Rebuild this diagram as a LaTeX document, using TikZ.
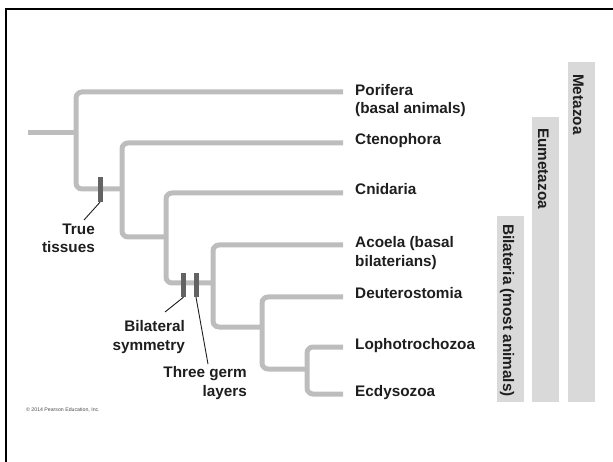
\documentclass[tikz,border=0pt]{standalone}
\usepackage{fontspec}
\setmainfont{Liberation Sans}
\definecolor{branchgray}{HTML}{BDBDBD}
\definecolor{markgray}{HTML}{636363}
\definecolor{bargray}{HTML}{D9D9D9}
\definecolor{inkblack}{HTML}{1E1E1E}
\begin{document}
\begin{tikzpicture}[x=1pt,y=-1pt,
  branch/.style={draw=branchgray, line width=5pt, rounded corners=6pt},
  lab/.style={font=\fontsize{15.3}{18.5}\selectfont\bfseries, text=inkblack,
    inner sep=0pt, anchor=base west, align=left},
  sidelab/.style={lab, anchor=base east, align=right},
  barlab/.style={lab, rotate=-90},
  marker/.style={fill=markgray, draw=none, inner sep=0pt,
    minimum width=5pt, minimum height=24pt},
  leader/.style={draw=inkblack, line width=0.9pt},
  cladebar/.style={fill=bargray}]
\useasboundingbox (0,0) rectangle (613,462);
% page frame
\draw[line width=2pt] (6,462) -- (6,9) -- (613,9);

% branch tips and internal nodes
\coordinate (root) at (28,133);
\coordinate (n1) at (76,133);
\coordinate (n2) at (122,189);
\coordinate (n3) at (166,237);
\coordinate (n4) at (213,283);
\coordinate (n5) at (262,327);
\coordinate (n6) at (307,369);
\coordinate (tPor) at (343,92);
\coordinate (tCte) at (343,143);
\coordinate (tCni) at (343,193);
\coordinate (tAco) at (343,245);
\coordinate (tDeu) at (343,297);
\coordinate (tLop) at (343,347);
\coordinate (tEcd) at (343,394);

% tree
\draw[branch] (root) -- (n1);
\draw[branch] (tPor) -| (n1) |- (n2);
\draw[branch] (tCte) -| (n2) |- (n3);
\draw[branch] (tCni) -| (n3) |- (n4);
\draw[branch] (tAco) -| (n4) |- (n5);
\draw[branch] (tDeu) -| (n5) |- (n6);
\draw[branch] (tLop) -| (n6) |- (tEcd);

% taxon labels (two-line labels are placed by their last baseline)
\node[lab] (por) at (355,114) {Porifera\\(basal animals)};
\node[lab] (cte) at (355,145) {Ctenophora};
\node[lab] (cni) at (355,195) {Cnidaria};
\node[lab] (aco) at (355,266.5) {Acoela (basal\\bilaterians)};
\node[lab] (deu) at (355,299) {Deuterostomia};
\node[lab] (lop) at (355,349) {Lophotrochozoa};
\node[lab] (ecd) at (355,396.5) {Ecdysozoa};

% character markers and their labels
\node[marker, minimum height=25pt] (mTissue) at (100,189.5) {};
\node[marker] (mSym) at (183.5,285) {};
\node[marker] (mGerm) at (196,285) {};
\node[sidelab] (lTissue) at (95,253) {True\\tissues};
\node[sidelab] (lSym) at (185,350) {Bilateral\\symmetry};
\node[sidelab] (lGerm) at (247,396) {Three germ\\layers};
\coordinate (eTissue) at (84,220);
\coordinate (eSym) at (165,312);
\coordinate (eGerm) at (208,364);
\draw[leader] (mTissue.south) -- (eTissue);
\draw[leader] (mSym.south) -- (eSym);
\draw[leader] (mGerm.south) -- (eGerm);

% clade bars
\fill[cladebar] (497,216) rectangle (524,402);
\fill[cladebar] (532,117) rectangle (559,402);
\fill[cladebar] (568,62) rectangle (595,402);
\node[barlab] (bil) at (503,224) {Bilateria (most animals)};
\node[barlab] (eum) at (538,128) {Eumetazoa};
\node[barlab] (met) at (573,74) {Metazoa};

% credit line
\node[font=\fontsize{5.2}{6}\selectfont, text=black!70, inner sep=0pt,
  anchor=base west] (credit) at (26,411) {\textcopyright{} 2014 Pearson Education, Inc.};
\end{tikzpicture}
\end{document}
